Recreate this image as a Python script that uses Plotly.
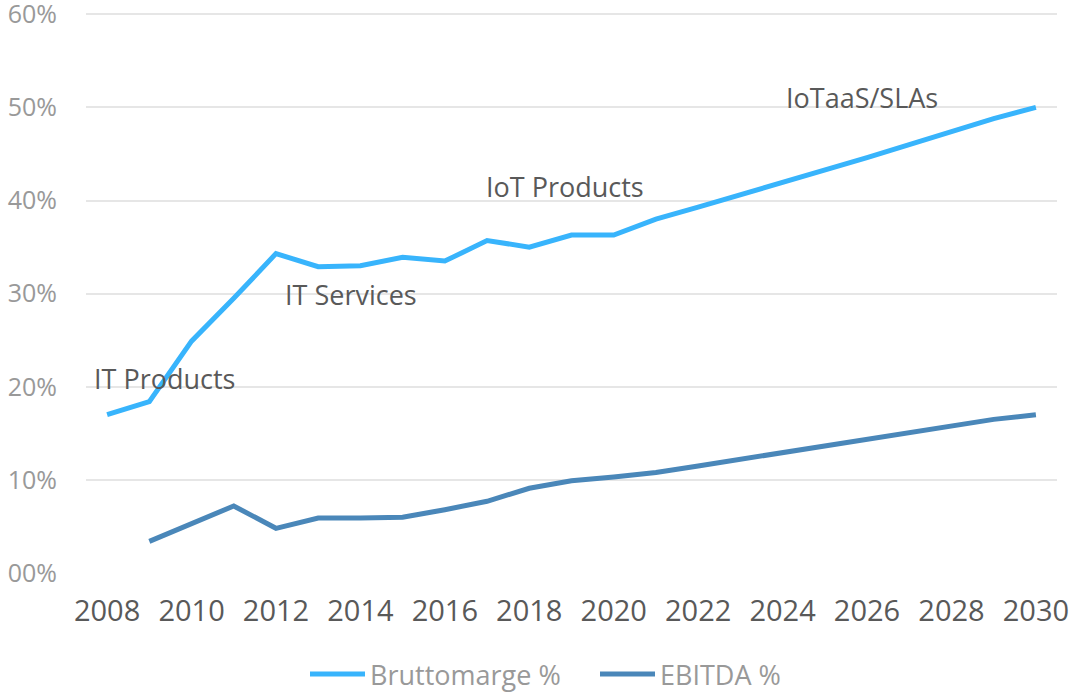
import plotly.graph_objects as go

years = list(range(2008, 2031))
brutto = [17.0, 18.4, 24.9, 29.5, 34.3, 32.9, 33.0, 33.9, 33.5, 35.7, 35.0, 36.3, 36.3,
          38.0, 39.3, 40.6, 41.9, 43.2, 44.6, 46.0, 47.4, 48.8, 50.0]
ebitda_years = list(range(2009, 2031))
ebitda = [3.4, 5.3, 7.2, 4.8, 5.9, 5.9, 6.0, 6.8, 7.7, 9.1, 9.9, 10.3,
          10.8, 11.5, 12.2, 12.9, 13.6, 14.3, 15.0, 15.8, 16.5, 17.0]
y_ticks = [0, 10, 20, 30, 40, 50, 60]
y_ticktext = ["00%", "10%", "20%", "30%", "40%", "50%", "60%"]
x_ticks = list(range(2008, 2031, 2))
labels = ["IT Products", "IT Services", "IoT Products", "IoTaaS/SLAs"]
label_x = [2009.37, 2013.78, 2018.85, 2025.87]
label_y = [20.9, 29.9, 41.5, 51.1]

FONT = "Open Sans"

fig = go.Figure()
fig.add_trace(go.Scatter(x=years, y=brutto, mode="lines", name="Bruttomarge %",
                         line=dict(color="#38B4FC", width=5)))
fig.add_trace(go.Scatter(x=ebitda_years, y=ebitda, mode="lines", name="EBITDA %",
                         line=dict(color="#4A87B9", width=5)))

for t, x, y in zip(labels, label_x, label_y):
    fig.add_annotation(x=x, y=y, text=t, showarrow=False, xanchor="center", yanchor="middle",
                       font=dict(family=FONT, size=27, color="#595959"))

fig.update_layout(
    width=1069, height=692,
    margin=dict(l=86, r=12, t=12, b=119, autoexpand=False),
    paper_bgcolor="white", plot_bgcolor="white",
    font=dict(family=FONT),
    showlegend=True,
    legend=dict(orientation="h", x=(305 - 86) / 971, xanchor="left", y=-0.181, yanchor="middle",
                font=dict(family=FONT, size=27, color="#999999"), itemwidth=55,
                entrywidth=220, entrywidthmode="pixels", traceorder="normal"),
    xaxis=dict(range=[2007.5, 2030.5], tickvals=x_ticks, showgrid=False, zeroline=False,
               showline=False, ticks="", ticklabelstandoff=18, automargin=False,
               ticklabeloverflow="allow",
               tickfont=dict(family=FONT, size=29, color="#595959")),
    yaxis=dict(range=[0, 60.25], tickvals=y_ticks, ticktext=y_ticktext, showgrid=True,
               gridcolor="#E6E6E6", gridwidth=2, zeroline=False, showline=False, ticks="",
               ticklabelstandoff=28, automargin=False, ticklabeloverflow="allow",
               tickfont=dict(family=FONT, size=25, color="#999999")),
)

fig.write_html("out.html", config={"displayModeBar": False},
               post_script="document.body.style.margin='0';")
